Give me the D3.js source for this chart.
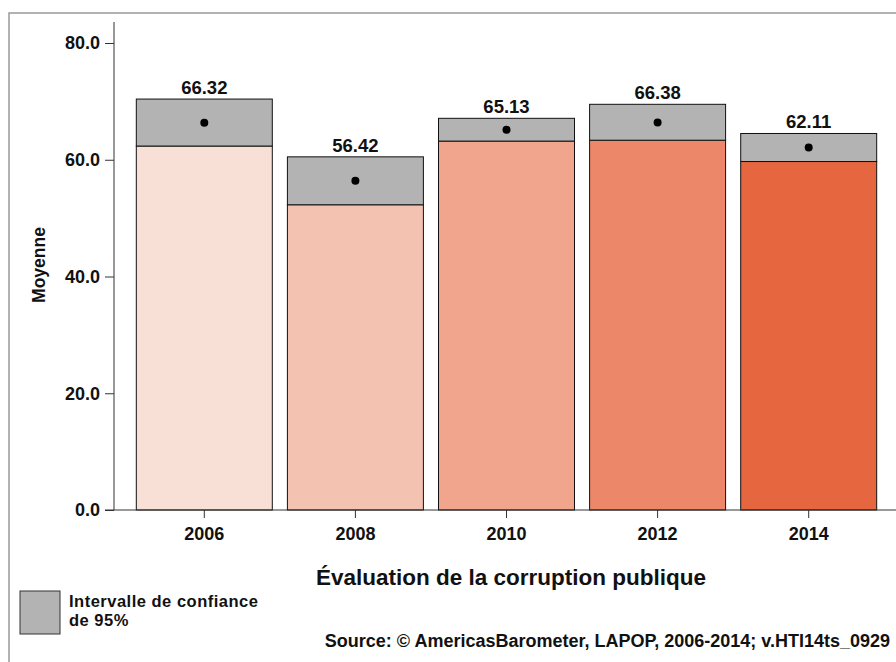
<!DOCTYPE html>
<html>
<head>
<meta charset="utf-8">
<script src="https://cdn.jsdelivr.net/npm/d3@7"></script>
<style>
  body { margin: 0; background: #fff; }
  svg text { font-family: "Liberation Sans", Arial, sans-serif; font-weight: bold; fill: #111; }
</style>
</head>
<body>
<svg id="chart" width="896" height="662"></svg>
<script>
// values
var years = ["2006", "2008", "2010", "2012", "2014"];
var means = [66.32, 56.42, 65.13, 66.38, 62.11];
var lowerCI = [62.35, 52.29, 63.2, 63.35, 59.7];
var upperCI = [70.4, 60.5, 67.1, 69.5, 64.5];
var barColors = ["#F9E0D7", "#F4C2B0", "#F0A58C", "#EC8769", "#E6663F"];
var yTicks = [0, 20, 40, 60, 80];

var data = years.map(function (d, i) {
  return { year: d, mean: means[i], lo: lowerCI[i], hi: upperCI[i], color: barColors[i] };
});

var svg = d3.select("#chart");

// outer frame (top + left only, the rest is cut off)
svg.append("path")
  .attr("d", "M9,662 L9,13 L896,13")
  .attr("fill", "none")
  .attr("stroke", "#999")
  .attr("stroke-width", 1.5);

var x = d3.scaleBand()
  .domain(years)
  .range([128.75, 884.25])
  .paddingInner(0.1)
  .paddingOuter(0.05);

var y = d3.scaleLinear()
  .domain([0, 83.6])
  .range([510, 22]);

// bars up to the lower bound
svg.selectAll(".bar")
  .data(data)
  .join("rect")
  .attr("class", "bar")
  .attr("x", d => x(d.year))
  .attr("width", x.bandwidth())
  .attr("y", d => y(d.lo))
  .attr("height", d => y(0) - y(d.lo))
  .attr("fill", d => d.color)
  .attr("stroke", "#111")
  .attr("stroke-width", 1);

// confidence interval boxes
svg.selectAll(".ci")
  .data(data)
  .join("rect")
  .attr("class", "ci")
  .attr("x", d => x(d.year))
  .attr("width", x.bandwidth())
  .attr("y", d => y(d.hi))
  .attr("height", d => y(d.lo) - y(d.hi))
  .attr("fill", "#B3B3B3")
  .attr("stroke", "#111")
  .attr("stroke-width", 1);

svg.selectAll(".dot")
  .data(data)
  .join("circle")
  .attr("class", "dot")
  .attr("cx", d => x(d.year) + x.bandwidth() / 2)
  .attr("cy", d => y(d.mean))
  .attr("r", 4)
  .attr("fill", "#000");

svg.selectAll(".val")
  .data(data)
  .join("text")
  .attr("class", "val")
  .attr("x", d => x(d.year) + x.bandwidth() / 2)
  .attr("y", d => y(d.hi) - 5)
  .attr("text-anchor", "middle")
  .style("font-size", "18.5px")
  .text(d => d.mean.toFixed(2));

// y axis
var yAxis = svg.append("g")
  .attr("transform", "translate(114,0)")
  .call(d3.axisLeft(y).tickValues(yTicks).tickFormat(d3.format(".1f")).tickSize(9).tickPadding(5));
yAxis.select(".domain").attr("d", "M0," + y(0) + "V22").attr("stroke", "#333");
yAxis.selectAll(".tick line").attr("stroke", "#333");
yAxis.selectAll(".tick text").style("font-size", "18px").attr("fill", "#111");

// x axis
var xAxis = svg.append("g")
  .attr("transform", "translate(0," + y(0) + ")")
  .call(d3.axisBottom(x).tickSize(8).tickPadding(9));
xAxis.select(".domain").attr("d", "M105,0H896").attr("stroke", "#333");
xAxis.selectAll(".tick line").attr("stroke", "#333");
xAxis.selectAll(".tick text").style("font-size", "18px").attr("fill", "#111");

svg.append("text")
  .attr("transform", "translate(45,265) rotate(-90)")
  .attr("text-anchor", "middle")
  .style("font-size", "17.5px")
  .text("Moyenne");

svg.append("text")
  .attr("x", 511)
  .attr("y", 585)
  .attr("text-anchor", "middle")
  .style("font-size", "22.5px")
  .text("Évaluation de la corruption publique");

// legend
svg.append("rect")
  .attr("x", 20).attr("y", 591)
  .attr("width", 40).attr("height", 43)
  .attr("fill", "#B3B3B3")
  .attr("stroke", "#333");
svg.append("text")
  .attr("x", 69).attr("y", 607)
  .style("font-size", "16.5px")
  .style("letter-spacing", "0.5px")
  .text("Intervalle de confiance");
svg.append("text")
  .attr("x", 69).attr("y", 626)
  .style("font-size", "16.5px")
  .style("letter-spacing", "0.5px")
  .text("de 95%");

svg.append("text")
  .attr("x", 890)
  .attr("y", 647)
  .attr("text-anchor", "end")
  .style("font-size", "18px")
  .text("Source: © AmericasBarometer, LAPOP, 2006-2014; v.HTI14ts_0929");
</script>
</body>
</html>
